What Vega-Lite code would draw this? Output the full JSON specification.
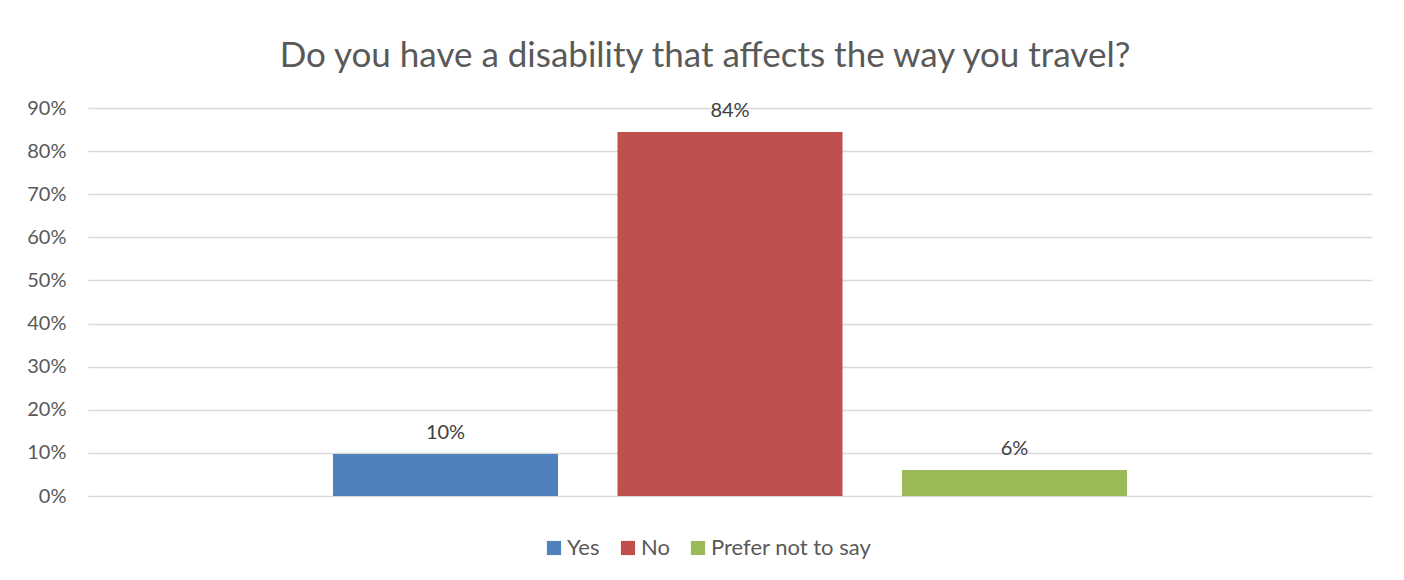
{
  "$schema": "https://vega.github.io/schema/vega-lite/v6.json",
  "width": 1284,
  "height": 388,
  "autosize": {"type": "none"},
  "padding": {"left": 88, "top": 108, "right": 32, "bottom": 84},
  "background": "white",
  "title": {
    "text": "Do you have a disability that affects the way you travel?",
    "font": "Lato",
    "fontSize": 35,
    "fontWeight": "normal",
    "color": "#595959",
    "anchor": "middle",
    "dx": -25,
    "offset": 24
  },
  "data": {
    "values": [
      {"answer": "Yes", "share": 0.0974},
      {"answer": "No", "share": 0.8445},
      {"answer": "Prefer not to say", "share": 0.0603}
    ]
  },
  "encoding": {
    "x": {
      "field": "answer",
      "type": "nominal",
      "sort": ["Yes", "No", "Prefer not to say"],
      "scale": {"paddingInner": 0.209, "paddingOuter": 0.861},
      "axis": null
    },
    "y": {
      "field": "share",
      "type": "quantitative",
      "scale": {"domain": [0, 0.9], "nice": false},
      "axis": {
        "values": [0, 0.1, 0.2, 0.3, 0.4, 0.5, 0.6, 0.7, 0.8, 0.9],
        "format": ".0%",
        "title": null,
        "domain": false,
        "ticks": false,
        "labelPadding": 22,
        "labelFont": "Lato",
        "labelFontSize": 20,
        "labelColor": "#595959",
        "gridColor": "#D9D9D9",
        "gridWidth": 1.3
      }
    }
  },
  "layer": [
    {
      "mark": {"type": "bar"},
      "encoding": {
        "color": {
          "field": "answer",
          "type": "nominal",
          "scale": {
            "domain": ["Yes", "No", "Prefer not to say"],
            "range": ["#4F81BD", "#C0504D", "#9BBB59"]
          },
          "legend": {
            "title": null,
            "orient": "none",
            "legendX": 455,
            "legendY": 429,
            "direction": "horizontal",
            "symbolType": "square",
            "symbolSize": 200,
            "symbolStrokeWidth": 0,
            "labelFont": "Lato",
            "labelFontSize": 22,
            "labelColor": "#595959",
            "labelLimit": 400,
            "columnPadding": 17,
            "labelOffset": 2
          }
        }
      }
    },
    {
      "mark": {
        "type": "text",
        "baseline": "bottom",
        "dy": -11,
        "font": "Lato",
        "fontSize": 20,
        "color": "#404040"
      },
      "encoding": {
        "text": {"field": "share", "type": "quantitative", "format": ".0%"}
      }
    }
  ],
  "config": {
    "view": {"stroke": null}
  }
}
